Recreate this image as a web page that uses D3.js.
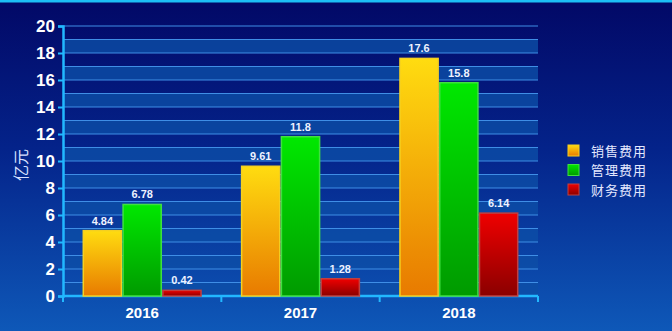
<!DOCTYPE html>
<html><head><meta charset="utf-8">
<script src="https://cdn.jsdelivr.net/npm/d3@7"></script>
<style>html,body{margin:0;padding:0;background:#04106e;}svg{display:block;}</style>
</head><body>
<script>
const categories = ["2016", "2017", "2018"];
const seriesNames = ["销售费用", "管理费用", "财务费用"];
const sales = [4.84, 9.61, 17.6];
const admin = [6.78, 11.8, 15.8];
const finance = [0.42, 1.28, 6.14];
const yTicks = [0, 2, 4, 6, 8, 10, 12, 14, 16, 18, 20];
const yTitle = "亿元";

(function () {
const W = 672, H = 331;
const svg = d3.select("body").append("svg").attr("width", W).attr("height", H);
const defs = svg.append("defs");

const bg = defs.append("linearGradient").attr("id", "bg").attr("x1", 0).attr("y1", 0).attr("x2", 0).attr("y2", 1);
bg.append("stop").attr("offset", "0%").attr("stop-color", "#020866");
bg.append("stop").attr("offset", "45%").attr("stop-color", "#04238a");
bg.append("stop").attr("offset", "100%").attr("stop-color", "#0e58b8");
svg.append("rect").attr("width", W).attr("height", H).attr("fill", "url(#bg)");
svg.append("rect").attr("width", W).attr("height", 2.5).attr("fill", "#1cc0f5");

const grads = [
  {id: "g0", top: "#ffdc10", bot: "#e87a00", stroke: "#f5d020"},
  {id: "g1", top: "#00e800", bot: "#009a00", stroke: "#40e040"},
  {id: "g2", top: "#f00000", bot: "#8a0000", stroke: "#c04040"}
];
grads.forEach(g => {
  const lg = defs.append("linearGradient").attr("id", g.id).attr("x1", 0).attr("y1", 0).attr("x2", 0).attr("y2", 1);
  lg.append("stop").attr("offset", "0%").attr("stop-color", g.top);
  lg.append("stop").attr("offset", "100%").attr("stop-color", g.bot);
});

const pLeft = 63, pRight = 538, pTop = 26, pBottom = 296;
const x = d3.scaleBand().domain(categories).range([pLeft, pRight]).paddingInner(0).paddingOuter(0);
const y = d3.scaleLinear().domain([0, 20]).range([pBottom, pTop]);

// stripes
const stripeVals = d3.range(0, 20, 2);
svg.append("g").selectAll("rect").data(stripeVals).join("rect")
  .attr("x", pLeft).attr("width", pRight - pLeft)
  .attr("y", d => y(d + 1)).attr("height", d => y(d) - y(d + 1))
  .attr("fill", "#0c4ea6").attr("opacity", 0.8);

// gridlines every 1
svg.append("g").selectAll("line").data(d3.range(1, 21)).join("line")
  .attr("x1", pLeft).attr("x2", pRight)
  .attr("y1", d => y(d)).attr("y2", d => y(d))
  .attr("stroke", "#3f8ee6").attr("stroke-width", 1.2);

// y axis
const yAxis = d3.axisLeft(y).tickValues(yTicks).tickSize(5).tickPadding(3);
const gy = svg.append("g").attr("transform", `translate(${pLeft},0)`).call(yAxis);
gy.select(".domain").attr("stroke", "#22b8ff").attr("stroke-width", 2.5);
gy.selectAll(".tick line").attr("stroke", "#22b8ff").attr("stroke-width", 2);
gy.selectAll(".tick text").attr("fill", "#ffffff").attr("font-family", "Liberation Sans Narrow, Liberation Sans, Arial, sans-serif")
  .attr("font-weight", "bold").attr("font-size", 17);

// x axis
const gx = svg.append("g").attr("transform", `translate(0,${pBottom})`);
gx.append("line").attr("x1", pLeft).attr("x2", pRight).attr("stroke", "#22b8ff").attr("stroke-width", 2.5);
const bounds = [pLeft].concat(categories.map(c => x(c) + x.bandwidth()));
gx.selectAll(".xt").data(bounds).join("line").attr("class", "xt")
  .attr("x1", d => d).attr("x2", d => d).attr("y1", 0).attr("y2", 6)
  .attr("stroke", "#22b8ff").attr("stroke-width", 2);
gx.selectAll("text").data(categories).join("text")
  .attr("x", d => x(d) + x.bandwidth() / 2).attr("y", 22)
  .attr("text-anchor", "middle").attr("fill", "#ffffff")
  .attr("font-family", "Liberation Sans, Arial, sans-serif").attr("font-weight", "bold").attr("font-size", 15)
  .text(d => d);

// bars
const x1 = d3.scaleBand().domain([0, 1, 2]).range([0, x.bandwidth()]).paddingOuter(0.51).paddingInner(0.04);
const series = [sales, admin, finance];
const data = [];
series.forEach((arr, si) => arr.forEach((v, ci) => data.push({si, ci, v})));
const bars = svg.append("g");
bars.selectAll("rect").data(data).join("rect")
  .attr("x", d => x(categories[d.ci]) + x1(d.si))
  .attr("width", x1.bandwidth())
  .attr("y", d => y(d.v))
  .attr("height", d => y(0) - y(d.v))
  .attr("fill", d => `url(#${grads[d.si].id})`)
  .attr("stroke", d => grads[d.si].stroke).attr("stroke-width", 1.5);
bars.selectAll("text").data(data).join("text")
  .attr("x", d => x(categories[d.ci]) + x1(d.si) + x1.bandwidth() / 2)
  .attr("y", d => y(d.v) - 6)
  .attr("text-anchor", "middle").attr("fill", "#eef2ff")
  .attr("font-family", "Liberation Sans, Arial, sans-serif").attr("font-weight", "bold").attr("font-size", 11)
  .text(d => d.v);

// y title
svg.append("text").attr("transform", "translate(27,165) rotate(-90)")
  .attr("text-anchor", "middle").attr("fill", "#d8e0ff")
  .attr("font-family", "Noto Sans CJK SC, sans-serif").attr("font-size", 16)
  .text(yTitle);

// legend
const lg = svg.append("g").attr("transform", "translate(568,151)");
const items = lg.selectAll("g").data(seriesNames).join("g").attr("transform", (d, i) => `translate(0,${i * 19.5})`);
items.append("rect").attr("x", 0).attr("y", -6).attr("width", 11).attr("height", 11)
  .attr("fill", (d, i) => `url(#${grads[i].id})`).attr("stroke", (d, i) => grads[i].stroke).attr("stroke-width", 1);
items.append("text").attr("x", 23).attr("y", 0).attr("dy", "0.36em")
  .attr("fill", "#e4e8ff").attr("font-family", "Noto Sans CJK SC, sans-serif").attr("font-size", 13)
  .attr("letter-spacing", 1).text(d => d);
})();
</script>
</body></html>
